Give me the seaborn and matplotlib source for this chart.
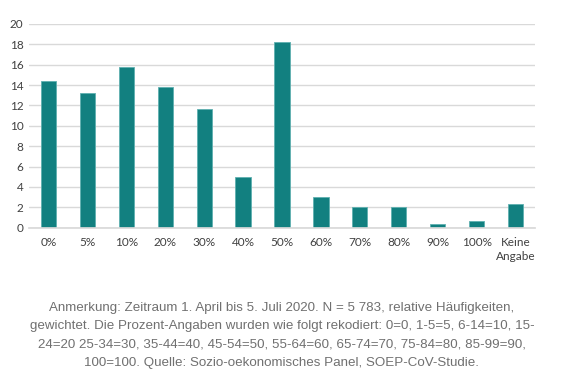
import matplotlib
matplotlib.use("Agg")
import matplotlib.pyplot as plt
import seaborn as sns
import pandas as pd

categories = ["0%", "5%", "10%", "20%", "30%", "40%", "50%", "60%", "70%", "80%", "90%", "100%", "Keine\nAngabe"]
values = [14.4, 13.2, 15.8, 13.8, 11.65, 5.0, 18.2, 3.05, 2.0, 2.07, 0.33, 0.65, 2.35]
yticks = list(range(0, 21, 2))
caption = ("Anmerkung: Zeitraum 1. April bis 5. Juli 2020. N = 5 783, relative Häufigkeiten,\n"
           "gewichtet. Die Prozent-Angaben wurden wie folgt rekodiert: 0=0, 1-5=5, 6-14=10, 15-\n"
           "24=20 25-34=30, 35-44=40, 45-54=50, 55-64=60, 65-74=70, 75-84=80, 85-99=90,\n"
           "100=100. Quelle: Sozio-oekonomisches Panel, SOEP-CoV-Studie.")

df = pd.DataFrame({"cat": categories, "val": values})

sns.set_theme(style="white")
plt.rcParams['font.family'] = ['Lato', 'DejaVu Sans']

fig = plt.figure(figsize=(5.64, 3.75), dpi=100)
ax = fig.add_axes([0.0514, 0.393, 0.8972, 0.543])
sns.barplot(data=df, x="cat", y="val", color="#128080", saturation=1, width=0.39,
            edgecolor="#5fb0b0", linewidth=0.6, ax=ax)
ax.set_ylim(0, 20)
ax.set_xlim(-0.5, len(categories) - 0.5)
ax.set_yticks(yticks)
ax.set_yticklabels([str(t) for t in yticks])
ax.yaxis.grid(True, color="#d9d9d9", linewidth=1)
ax.set_axisbelow(True)
for s in ax.spines.values():
    s.set_visible(False)
ax.spines['bottom'].set_visible(True)
ax.spines['bottom'].set_color("#d9d9d9")
ax.set_xlabel("")
ax.set_ylabel("")
ax.tick_params(axis='both', length=0, labelsize=8.5, colors="#404040")
ax.tick_params(axis='y', pad=4)
ax.tick_params(axis='x', pad=7)
for lab in ax.get_xticklabels():
    lab.set_linespacing(1.35)

fig.text(0.5, 1 - 335.5 / 375, caption, ha="center", va="center", fontsize=9.6,
         color="#707070", family=["Liberation Sans", "DejaVu Sans"], linespacing=1.72)

fig.savefig("out.png", dpi=100, facecolor="white")
